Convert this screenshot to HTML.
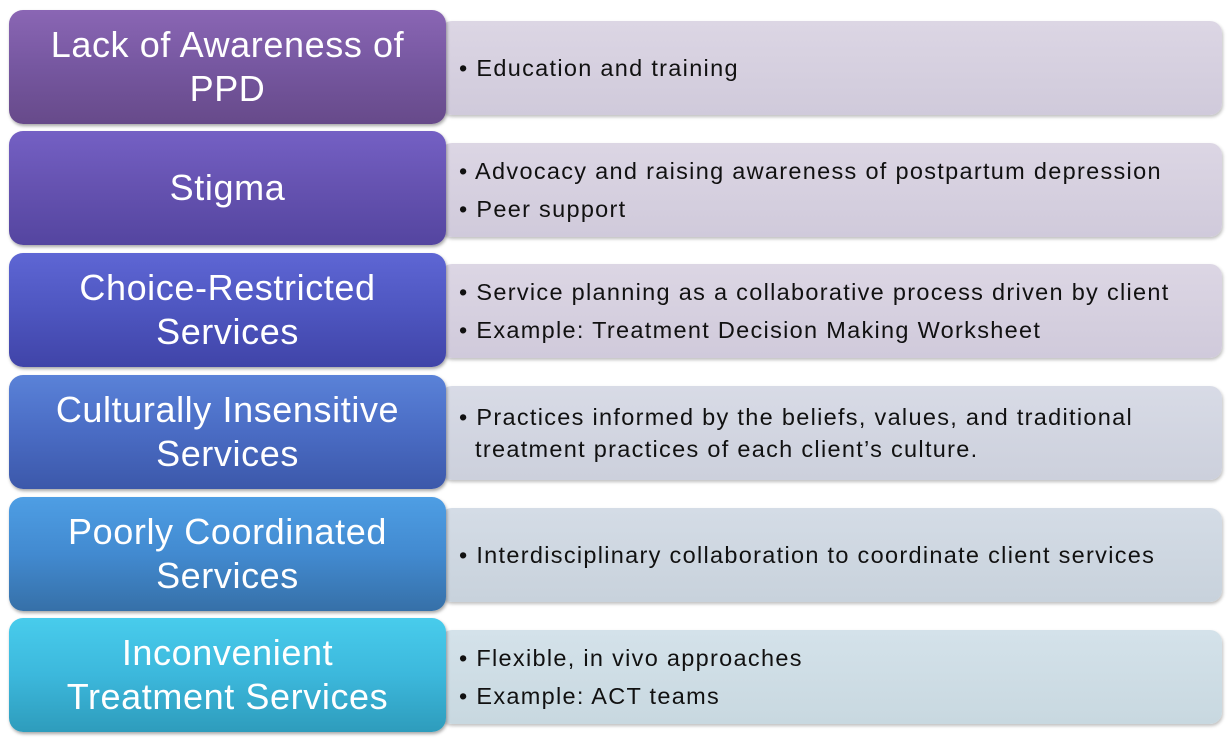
<!DOCTYPE html>
<html><head><style>
body{margin:0;width:1231px;height:747px;background:#fff;position:relative;overflow:hidden;font-family:"Liberation Sans",sans-serif}
.l{position:absolute;left:9px;width:437px;height:114px;border-radius:14px;color:#fff;display:flex;align-items:center;justify-content:center;text-align:center;font-size:36px;line-height:44px;box-shadow:1px 2px 3px rgba(0,0,0,.35);z-index:2;letter-spacing:0.6px}
.r{position:absolute;left:440px;width:782px;height:94px;border-radius:12px;box-shadow:1px 2px 3px rgba(0,0,0,.25);display:flex;flex-direction:column;justify-content:center;font-size:23.5px;color:#111;padding-left:19px;padding-right:40px;box-sizing:border-box;letter-spacing:1.3px}
.r div{padding-left:16px;text-indent:-16px;line-height:32px}
.r div.s{line-height:38px}
</style></head><body>
<div class="r" style="top:21px;background:linear-gradient(#dcd6e4,#d0cadb)"><div class="s">• Education and training</div></div>
<div class="l" style="top:10px;background:linear-gradient(#8a66b4,#7657a0 50%,#674a8a)">Lack of Awareness of<br>PPD</div>

<div class="r" style="top:143px;background:linear-gradient(#dcd6e4,#d0cadb)"><div class="s">• Advocacy and raising awareness of postpartum depression</div><div class="s">• Peer support</div></div>
<div class="l" style="top:131px;background:linear-gradient(#7460c4,#6552b0 50%,#5445a0)">Stigma</div>

<div class="r" style="top:264px;background:linear-gradient(#dcd6e4,#d0cadb)"><div class="s">• Service planning as a collaborative process driven by client</div><div class="s">• Example: Treatment Decision Making Worksheet</div></div>
<div class="l" style="top:253px;background:linear-gradient(#5e66d4,#4e56c0 50%,#4044a8)">Choice-Restricted<br>Services</div>

<div class="r" style="top:386px;background:linear-gradient(#d8dbe6,#ccd0dc)"><div>• Practices informed by the beliefs, values, and traditional<br>treatment practices of each client’s culture.</div></div>
<div class="l" style="top:375px;background:linear-gradient(#5a82d8,#4a6cc4 50%,#3c58aa)">Culturally Insensitive<br>Services</div>

<div class="r" style="top:508px;background:linear-gradient(#d4dce6,#c8d2dc)"><div class="s">• Interdisciplinary collaboration to coordinate client services</div></div>
<div class="l" style="top:497px;background:linear-gradient(#4e9ee4,#428ad0 50%,#3670a8)">Poorly Coordinated<br>Services</div>

<div class="r" style="top:630px;background:linear-gradient(#d4e2ea,#c8d8e0)"><div class="s">• Flexible, in vivo approaches</div><div class="s">• Example: ACT teams</div></div>
<div class="l" style="top:618px;background:linear-gradient(#48ccec,#3cb8dc 50%,#2e9cbc)">Inconvenient<br>Treatment Services</div>
</body></html>
